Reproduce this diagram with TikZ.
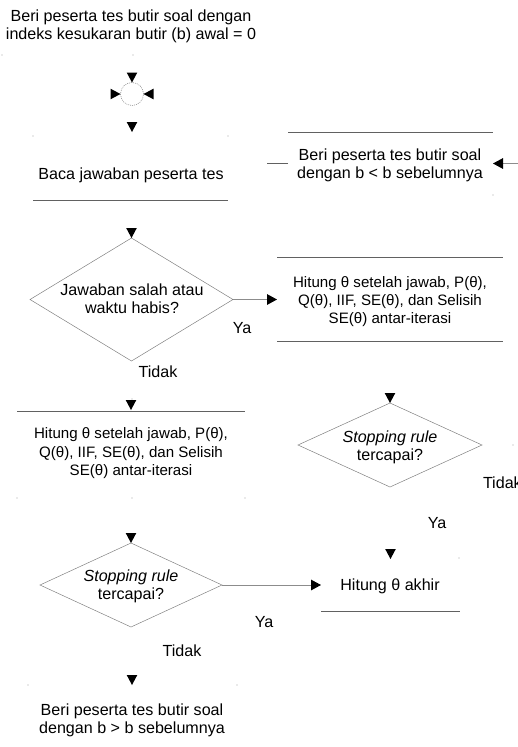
\documentclass[tikz,border=0pt]{standalone}
\usepackage{fontspec}
\setmainfont{Liberation Sans}
\usetikzlibrary{shapes.geometric,arrows.meta}
\tikzset{
  lbl/.style={align=center, inner sep=0pt, outer sep=0pt, text=black, font=\fontsize{16.1}{18}\selectfont},
  lbls/.style={lbl, font=\fontsize{15.1}{18.3}\selectfont},
  frame/.style={rectangle, draw=none, inner sep=0pt, outer sep=0pt},
  boxline/.style={draw=black!62, line width=0.9pt},
  dia/.style={diamond, draw=black!50, line width=0.5pt, inner sep=0pt, outer sep=0pt},
  conn/.style={draw=black!45, line width=1pt, -{Triangle[length=10pt,width=10.6pt,color=black]}},
  stub/.style={draw=black!62, line width=0.9pt},
  speck/.style={fill=black!35},
  tipdown/.pic={\fill[black] (-5.3,-10) -- (5.3,-10) -- (0,0) -- cycle;},
  tipright/.pic={\fill[black] (-10,-5.3) -- (-10,5.3) -- (0,0) -- cycle;},
  tipleft/.pic={\fill[black] (10,-5.3) -- (10,5.3) -- (0,0) -- cycle;},
}
\begin{document}
\begin{tikzpicture}[x=1pt,y=-1pt]
\useasboundingbox (0,0) rectangle (518,747);
\clip (0,0) rectangle (518,747);

% title
\node[lbl] (title) at (131,26.4) {\strut Beri peserta tes butir soal dengan\\\strut indeks kesukaran butir (b) awal = 0};

% junction circle
\node[circle, draw=black!50, line width=0.5pt, dash pattern=on 1pt off 1pt, minimum size=23pt, inner sep=0pt, outer sep=0pt] (jn) at (132,94) {};
\pic at (jn.north) {tipdown};
\pic at (jn.west) {tipright};
\pic at (jn.east) {tipleft};

% box: Baca jawaban
\node[frame, minimum width=195pt, minimum height=64pt] (baca) at (130.5,168) {};
\node[lbl] (bacat) at (131,175.4) {Baca jawaban peserta tes};
\draw[boxline] (baca.south west) -- (baca.south east);
\coordinate (bacain) at (132,132);
\pic at (bacain) {tipdown};

% box: b < b sebelumnya
\node[frame, minimum width=205pt, minimum height=63pt] (lower) at (390.5,163.5) {};
\node[lbl] (lowert) at (390,165.4) {\strut Beri peserta tes butir soal\\\strut dengan b < b sebelumnya};
\draw[boxline] (lower.north west) -- (lower.north east);
\draw[stub] (lower.west) -- ++(-21,0);
\coordinate (rin) at (520,163.5);
\draw[conn] (rin) -- (lower.east);

% decision 1
\node[dia, minimum width=203pt, minimum height=123pt] (d1) at (131.5,299.5) {};
\node[lbl] (d1t) at (132,300.9) {\strut Jawaban salah atau\\\strut waktu habis?};
\pic at (d1.north) {tipdown};
\node[lbl] (ya1) at (242,328.4) {Ya};
\node[lbl] (tidak1) at (158,372) {Tidak};

% box: hitung (right)
\node[frame, minimum width=226pt, minimum height=84pt] (hitr) at (390,299) {};
\node[lbls] (hitrt) at (390,301.9) {\strut Hitung θ setelah jawab, P(θ),\\\strut Q(θ), IIF, SE(θ), dan Selisih\\\strut SE(θ) antar-iterasi};
\draw[boxline] (hitr.north west) -- (hitr.north east);
\draw[boxline] (hitr.south west) -- (hitr.south east);
\draw[conn] (d1.east) -- (d1.east -| hitr.west);

% box: hitung (left)
\node[frame, minimum width=228pt, minimum height=87pt] (hitl) at (131,454.5) {};
\node[lbls] (hitlt) at (131,453.6) {\strut Hitung θ setelah jawab, P(θ),\\\strut Q(θ), IIF, SE(θ), dan Selisih\\\strut SE(θ) antar-iterasi};
\draw[boxline] (hitl.north west) -- (hitl.north east);
\pic at ([yshift=1pt]hitl.north) {tipdown};

% decision 2 (right)
\node[dia, minimum width=184pt, minimum height=84pt] (d2) at (390,445) {};
\node[lbl] (d2t) at (390,447.7) {\strut\textit{Stopping rule}\\\strut tercapai?};
\pic at (d2.north) {tipdown};
\node[lbl, anchor=west] (tidak2) at (483,482.4) {Tidak};
\node[lbl] (ya2) at (437,523.1) {Ya};

% final box
\node[frame, minimum width=139pt, minimum height=53pt] (final) at (390.5,584.5) {};
\node[lbl] (finalt) at (390,586.4) {Hitung θ akhir};
\draw[boxline] (final.south west) -- (final.south east);
\pic at ([yshift=-1pt]final.north) {tipdown};

% decision 3 (left)
\node[dia, minimum width=182pt, minimum height=84pt] (d3) at (131,585) {};
\node[lbl] (d3t) at (131,587.1) {\strut\textit{Stopping rule}\\\strut tercapai?};
\pic at (d3.north) {tipdown};
\draw[conn] (d3.east) -- (d3.east -| final.west);
\node[lbl] (ya3) at (264,622.1) {Ya};
\node[lbl] (tidak3) at (182,650.4) {Tidak};

% bottom box
\coordinate (botin) at (132,685);
\pic at (botin) {tipdown};
\node[lbl] (bot) at (132,720.4) {\strut Beri peserta tes butir soal\\\strut dengan b > b sebelumnya};

% stray corner specks
\foreach \p in {(2,55),(133,55),(33,136),(228,136),(493,195),(132,399),(17,498),(132,498),(245,498),(513,445),(459,558),(28,685),(237,685)}
  \fill[speck] \p circle (0.6);
\end{tikzpicture}
\end{document}
